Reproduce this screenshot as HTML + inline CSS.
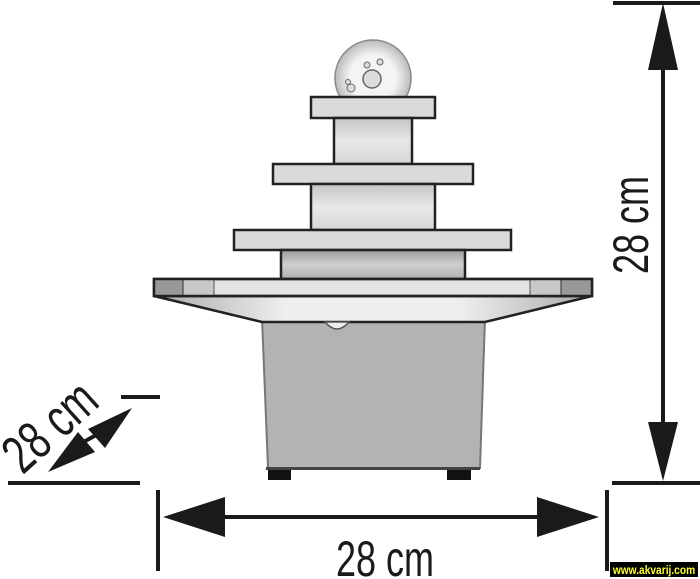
<!DOCTYPE html>
<html><head><style>
html,body{margin:0;padding:0;background:#fff;}
svg{display:block;}
text{font-family:"Liberation Sans",sans-serif;}
</style></head><body>
<svg width="700" height="579" viewBox="0 0 700 579" xmlns="http://www.w3.org/2000/svg">
<defs>
<linearGradient id="g1" x1="0" y1="0" x2="0" y2="1"><stop offset="0" stop-color="#c4c4c4"/><stop offset="0.5" stop-color="#e8e8e8"/><stop offset="1" stop-color="#d6d6d6"/></linearGradient>
<linearGradient id="g3" x1="0" y1="0" x2="0" y2="1"><stop offset="0" stop-color="#9a9a9a"/><stop offset="0.5" stop-color="#cfcfcf"/><stop offset="1" stop-color="#b0b0b0"/></linearGradient>
<linearGradient id="gt" x1="0" y1="0" x2="1" y2="0"><stop offset="0" stop-color="#aaa"/><stop offset="0.3" stop-color="#eee"/><stop offset="0.7" stop-color="#eee"/><stop offset="1" stop-color="#aaa"/></linearGradient>
<radialGradient id="gb" cx="0.5" cy="0.5" r="0.5"><stop offset="0.6" stop-color="#f4f4f4"/><stop offset="1" stop-color="#bbb"/></radialGradient>
<clipPath id="cb"><rect x="300" y="0" width="150" height="97"/></clipPath>
</defs>
<circle cx="373" cy="78" r="38" fill="url(#gb)" stroke="#888" stroke-width="1.5" clip-path="url(#cb)"/>
<circle cx="372" cy="79" r="9" fill="#ddd" stroke="#666" stroke-width="1.5"/>
<circle cx="367" cy="65" r="3" fill="#ddd" stroke="#666"/>
<circle cx="380" cy="62" r="3" fill="#ddd" stroke="#666"/>
<circle cx="351" cy="88" r="4" fill="#ddd" stroke="#666"/>
<circle cx="348" cy="82" r="2.5" fill="#ddd" stroke="#666"/>
<g stroke="#222" stroke-width="2.5">
<rect x="311" y="97" width="124" height="21" fill="#dadada"/>
<rect x="334" y="118" width="78" height="46" fill="url(#g1)"/>
<rect x="273" y="164" width="200" height="20" fill="#dadada"/>
<rect x="311" y="184" width="124" height="46" fill="url(#g1)"/>
<rect x="234" y="230" width="277" height="20" fill="#dadada"/>
<rect x="281" y="250" width="184" height="29" fill="url(#g3)"/>
</g>
<path d="M262 318 L485 318 L480 468 L268 468 Z" fill="#b3b3b3" stroke="#777" stroke-width="2"/>
<rect x="268" y="470" width="23" height="10" fill="#111"/>
<rect x="447" y="470" width="24" height="10" fill="#111"/>
<rect x="266" y="467" width="214" height="3" fill="#444"/>
<path d="M154 296 L592 296 L485 322 L262 322 Z" fill="url(#gt)" stroke="#222" stroke-width="2.5"/>
<path d="M325 322 Q337 336 349 322 Z" fill="#eee" stroke="#555" stroke-width="1.5"/>
<rect x="154" y="279" width="438" height="17" fill="#e4e4e4" stroke="#222" stroke-width="2.5"/>
<path d="M154 280 L183 280 L183 296 L154 296 Z" fill="#999"/>
<path d="M183 280 L214 280 L214 296 L183 296 Z" fill="#c8c8c8"/>
<path d="M530 280 L561 280 L561 296 L530 296 Z" fill="#c8c8c8"/>
<path d="M561 280 L592 280 L592 296 L561 296 Z" fill="#999"/>
<line x1="183" y1="280" x2="183" y2="296" stroke="#333"/>
<line x1="214" y1="280" x2="214" y2="296" stroke="#555"/>
<line x1="530" y1="280" x2="530" y2="296" stroke="#555"/>
<line x1="561" y1="280" x2="561" y2="296" stroke="#333"/>
<rect x="154" y="279" width="438" height="17" fill="none" stroke="#222" stroke-width="2.5"/>
<g fill="#1a1a1a" stroke="none">
<rect x="613" y="1" width="87" height="4"/>
<rect x="612" y="481" width="88" height="4"/>
<rect x="661" y="30" width="4" height="420"/>
<path d="M663 3 L648 70 L678 70 Z"/>
<path d="M663 481 L648 422 L678 422 Z"/>
<rect x="156" y="490" width="4" height="81"/>
<rect x="605" y="490" width="4" height="81"/>
<rect x="200" y="515" width="360" height="4"/>
<path d="M163 517 L225 497 L225 537 Z"/>
<path d="M599 517 L537 497 L537 537 Z"/>
<rect x="8" y="481" width="132" height="4"/>
<rect x="121" y="395" width="39" height="4"/>
<path d="M48 472 L78 432 L95 452 Z"/>
<path d="M132 408 L88 429 L105 448 Z"/>
</g>
<line x1="80" y1="444" x2="98" y2="434" stroke="#1a1a1a" stroke-width="4"/>
<text x="0" y="0" font-size="50" fill="#1a1a1a" text-anchor="middle" transform="translate(648,225) rotate(-90) scale(0.72,1)">28 cm</text>
<text x="0" y="0" font-size="50" fill="#1a1a1a" text-anchor="middle" transform="translate(385,576) scale(0.72,1)">28 cm</text>
<text x="0" y="0" font-size="54" fill="#1a1a1a" text-anchor="middle" transform="translate(62,440) rotate(-42) scale(0.72,1)">28 cm</text>
<rect x="610" y="562" width="88" height="15" fill="#000"/>
<text x="654" y="574" font-size="12" font-weight="bold" fill="#ffff33" text-anchor="middle" transform="translate(654,0) scale(0.85,1) translate(-654,0)">www.akvarij.com</text>
</svg>
</body></html>
